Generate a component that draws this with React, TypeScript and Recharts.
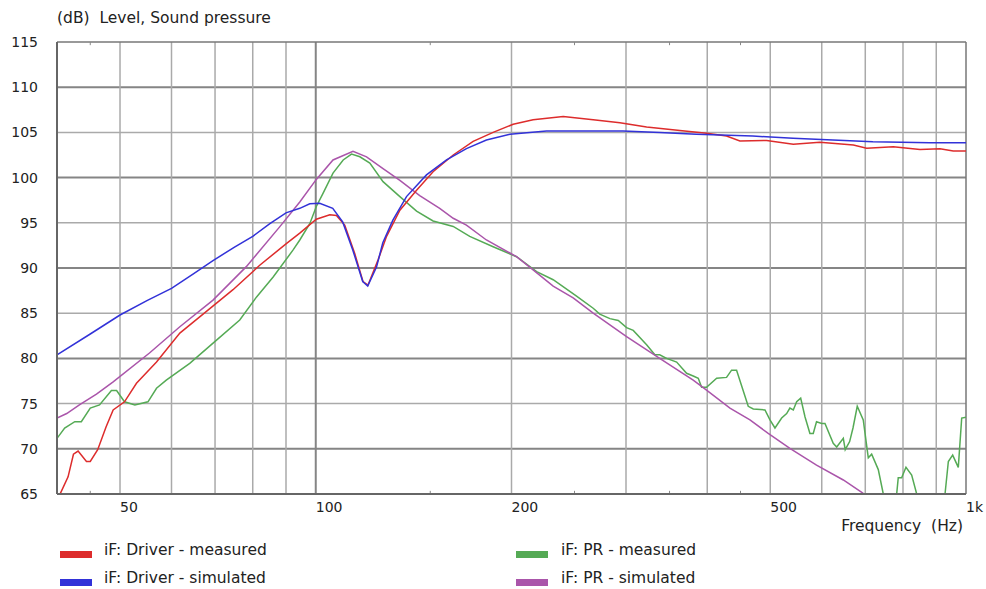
import React from 'react';
import { LineChart, Line, XAxis, YAxis, ReferenceLine } from 'recharts';

// axis setup
const xTicks = [50, 100, 200, 500, 1000];
const yTicks = [65, 70, 75, 80, 85, 90, 95, 100, 105, 110, 115];
const xGrid = [50, 60, 70, 80, 90, 100, 200, 300, 400, 500, 600, 700, 800, 900];
const minorTicks = [45, 150, 250, 350, 450];

// iF: Driver - measured
const driverMeasuredHz = [40, 40.5, 41.6, 42.4, 43.1, 44.4, 45.0, 46.2, 47.6, 48.8, 50.8, 53.0, 56.9, 61.8, 67.9, 74.6, 82.0, 90.1, 94.5, 100.2, 105.1, 107.6, 110.8, 114.8, 118.2, 120.3, 124.7, 128.5, 134.7, 142.9, 151.5, 162.7, 174.6, 187.4, 201.2, 215.9, 240.2, 267.1, 293.6, 322.7, 363, 399, 428.3, 449, 493.6, 542.5, 596, 671, 703.5, 773, 849.6, 912, 956, 1000];
const driverMeasuredDb = [64.2, 65.1, 66.9, 69.4, 69.75, 68.6, 68.6, 69.9, 72.45, 74.3, 75.2, 77.25, 79.6, 82.8, 85.2, 87.6, 90.3, 92.7, 93.85, 95.4, 95.9, 95.8, 94.75, 91.6, 88.5, 88.1, 90.9, 93.5, 96.4, 98.6, 100.65, 102.5, 104.0, 105.0, 105.9, 106.4, 106.75, 106.4, 106.07, 105.6, 105.2, 104.9, 104.6, 104.05, 104.1, 103.7, 103.9, 103.6, 103.25, 103.4, 103.1, 103.2, 102.95, 102.95];

// iF: Driver - simulated
const driverSimHz = [40, 45, 50, 55, 60, 65, 69.4, 75, 80, 85, 90, 94.5, 97.9, 101.4, 106.2, 110, 114, 118.1, 120.2, 124, 126.8, 131.4, 137.9, 148, 158.9, 170.5, 183, 198.9, 226.4, 296.8, 338, 385, 470, 542, 624, 719, 880, 1000];
const driverSimDb = [80.4, 82.7, 84.8, 86.4, 87.75, 89.4, 90.8, 92.3, 93.5, 94.9, 96.1, 96.6, 97.1, 97.15, 96.6, 95.1, 92.0, 88.5, 88.0, 90.1, 92.8, 95.3, 97.9, 100.3, 101.95, 103.2, 104.15, 104.8, 105.15, 105.15, 105.0, 104.8, 104.6, 104.35, 104.15, 103.97, 103.86, 103.86];

// iF: PR - measured
const prMeasuredHz = [40, 41.1, 42.6, 43.6, 45, 46.5, 48.5, 49.4, 50.8, 52.7, 55.2, 56.9, 58.9, 64.0, 70.3, 76.4, 81.1, 86.0, 92.3, 94.5, 97.9, 100.2, 102.6, 106.3, 110.2, 113.5, 116.9, 121.1, 126.9, 134.7, 142.9, 151.5, 162.7, 172.5, 187.4, 203.6, 218.6, 231.8, 251.8, 267.1, 273.4, 283.4, 291.9, 300.6, 307.8, 322.7, 332.3, 338, 346.4, 358.9, 371.8, 380.6, 387.5, 392.1, 399, 413.6, 428.3, 436, 443.8, 462.5, 470.8, 490.7, 499.5, 508.4, 520.6, 529.9, 536, 542.5, 549, 556.9, 565.4, 575.4, 582.2, 589, 599.8, 606.9, 624.9, 632.6, 647.6, 652, 662.3, 670.2, 680.4, 695, 707.5, 716, 733, 746.1, 782.3, 786.7, 796.2, 808.5, 825, 839.8, 928.4, 939.4, 953.9, 973.1, 984.9, 1000];
const prMeasuredDb = [71.15, 72.3, 73.0, 73.0, 74.5, 74.85, 76.45, 76.45, 75.2, 74.85, 75.2, 76.7, 77.6, 79.45, 82.0, 84.25, 86.8, 89.0, 92.0, 93.1, 94.9, 96.8, 98.25, 100.5, 101.95, 102.6, 102.3, 101.6, 99.55, 97.9, 96.3, 95.2, 94.6, 93.5, 92.35, 91.25, 89.6, 88.7, 86.9, 85.55, 84.9, 84.4, 84.2, 83.4, 83.1, 81.5, 80.4, 80.4, 80.0, 79.6, 78.35, 78.05, 77.8, 76.8, 76.8, 77.8, 77.9, 78.7, 78.7, 74.7, 74.4, 74.3, 73.2, 72.3, 73.4, 73.9, 74.5, 74.3, 75.2, 75.6, 73.55, 71.7, 71.7, 73.0, 72.8, 72.8, 70.6, 70.2, 71.15, 69.9, 70.8, 72.3, 74.7, 73.2, 69.0, 69.4, 67.7, 65.0, 65.0, 66.8, 66.8, 67.95, 67.1, 65.0, 65.0, 68.6, 69.3, 67.95, 73.4, 73.5];

// iF: PR - simulated
const prSimHz = [40, 41.4, 43.3, 46.0, 48.8, 55.5, 61.8, 69.5, 78.2, 88.0, 94.5, 100.2, 106.3, 114.1, 119.7, 126.9, 134.7, 144.5, 155.1, 162.7, 170.5, 183, 203.6, 215.9, 231.8, 248.8, 267.1, 300.6, 338, 380.6, 399, 433.5, 465.3, 496.4, 536, 589, 647.6, 695, 760];
const prSimDb = [73.4, 73.9, 74.85, 76.05, 77.4, 80.6, 83.5, 86.45, 90.15, 94.55, 97.3, 99.8, 101.95, 102.9, 102.3, 101.0, 99.7, 98.0, 96.6, 95.5, 94.75, 93.1, 91.25, 89.8, 88.0, 86.7, 85.0, 82.4, 80.0, 77.6, 76.5, 74.5, 73.2, 71.7, 70.05, 68.2, 66.55, 65.07, 64.0];

const toPoints = (hz: number[], db: number[]) => hz.map((f, i) => ({ f, db: db[i] }));

const series = [
  { name: 'iF: PR - measured', color: '#55aa55', data: toPoints(prMeasuredHz, prMeasuredDb) },
  { name: 'iF: PR - simulated', color: '#aa55aa', data: toPoints(prSimHz, prSimDb) },
  { name: 'iF: Driver - measured', color: '#dd2c2c', data: toPoints(driverMeasuredHz, driverMeasuredDb) },
  { name: 'iF: Driver - simulated', color: '#3232d8', data: toPoints(driverSimHz, driverSimDb) },
];

const legendRows = [
  ['iF: Driver - measured', 'iF: PR - measured'],
  ['iF: Driver - simulated', 'iF: PR - simulated'],
];

const FONT = '"DejaVu Sans", Verdana, sans-serif';
const colorOf = (name: string) => series.find((s) => s.name === name)!.color;

const YTick = ({ y, payload }: any) => (
  <text x={38} y={y + 5} textAnchor="end" fontSize={14} fill="#222" fontFamily={FONT}>
    {payload.value}
  </text>
);

const XTick = ({ x, payload }: any) => (
  <text x={x} y={512} textAnchor="start" fontSize={14} fill="#222" fontFamily={FONT}>
    {payload.value === 1000 ? '1k' : payload.value}
  </text>
);

export default function App() {
  return (
    <div style={{ position: 'absolute', left: 0, top: 0, width: 986, height: 589, background: '#fff', fontFamily: FONT, color: '#222' }}>
      <div style={{ position: 'absolute', left: 57, top: 11, fontSize: 15.5, lineHeight: '15px', whiteSpace: 'pre' }}>
        (dB)  Level, Sound pressure
      </div>
      <LineChart width={986} height={530} margin={{ top: 42, right: 20, bottom: 6, left: 0 }}>
        <XAxis
          type="number"
          dataKey="f"
          scale="log"
          domain={[40, 1000]}
          ticks={xTicks}
          allowDataOverflow
          tickLine={false}
          axisLine={{ stroke: '#666', strokeWidth: 2 }}
          tick={<XTick />}
          height={30}
        />
        <YAxis
          type="number"
          domain={[65, 115]}
          ticks={yTicks}
          allowDataOverflow
          tickLine={false}
          axisLine={{ stroke: '#666', strokeWidth: 2 }}
          tick={<YTick />}
          width={57}
        />
        {yTicks.slice(1, -1).map((v) => (
          <ReferenceLine key={'h' + v} y={v} stroke={v % 10 === 0 ? '#858585' : '#aaaaaa'} strokeWidth={v % 10 === 0 ? 2 : 1.5} />
        ))}
        {xGrid.map((v) => (
          <ReferenceLine key={'v' + v} x={v} stroke={v === 100 ? '#858585' : '#aaaaaa'} strokeWidth={v === 100 ? 2 : 1.5} />
        ))}
        <ReferenceLine y={115} stroke="#777" strokeWidth={1.5} />
        <ReferenceLine x={1000} stroke="#777" strokeWidth={1.5} />
        {minorTicks.map((v) => (
          <ReferenceLine key={'mb' + v} segment={[{ x: v, y: 65 }, { x: v, y: 65.35 }]} stroke="#888" />
        ))}
        {minorTicks.map((v) => (
          <ReferenceLine key={'mt' + v} segment={[{ x: v, y: 115 }, { x: v, y: 114.65 }]} stroke="#888" />
        ))}
        {series.map((s) => (
          <Line
            key={s.name}
            data={s.data}
            dataKey="db"
            name={s.name}
            type="linear"
            stroke={s.color}
            strokeWidth={1.5}
            dot={false}
            activeDot={false}
            isAnimationActive={false}
          />
        ))}
      </LineChart>
      <div style={{ position: 'absolute', right: 23, top: 519, fontSize: 15.5, lineHeight: '15px', whiteSpace: 'pre' }}>
        Frequency  (Hz)
      </div>
      {legendRows.map((row, r) =>
        row.map((name, c) => (
          <div key={name} style={{ position: 'absolute', left: c === 0 ? 60 : 516, top: 543 + r * 28, height: 15, whiteSpace: 'pre' }}>
            <span style={{ position: 'absolute', left: 0, top: 8, width: 32, height: 7, background: colorOf(name) }} />
            <span style={{ position: 'absolute', left: c === 0 ? 44 : 45, top: 0, fontSize: 15.5, lineHeight: '15px' }}>{name}</span>
          </div>
        ))
      )}
    </div>
  );
}
